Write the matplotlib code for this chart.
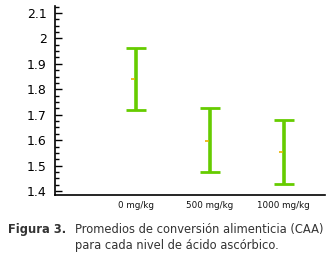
import matplotlib
matplotlib.use("Agg")
import matplotlib.pyplot as plt
from matplotlib.ticker import MultipleLocator, FixedLocator

categories = ["0 mg/kg", "500 mg/kg", "1000 mg/kg"]
means = [1.842, 1.597, 1.552]
upper = [1.964, 1.726, 1.678]
lower = [1.718, 1.476, 1.428]
yticks = [1.4, 1.5, 1.6, 1.7, 1.8, 1.9, 2.0, 2.1]
ylabels = ["1.4", "1.5", "1.6", "1.7", "1.8", "1.9", "2", "2.1"]

fig = plt.figure(figsize=(3.34, 2.54), dpi=100)
ax = fig.add_axes([55/334, 1-195/254, (325-55)/334, (195-6)/254])

x = list(range(1, len(categories) + 1))
err_lo = [m - l for m, l in zip(means, lower)]
err_hi = [u - m for m, u in zip(means, upper)]
ax.errorbar(x, means, yerr=[err_lo, err_hi], fmt="none", ecolor="#66cc00",
            elinewidth=2.6, capsize=7, capthick=2)
ax.plot([xi - 0.04 for xi in x], means, linestyle="none", marker="_",
        markersize=3, markeredgewidth=1.2, color="#e8b400", zorder=5)

ax.set_xlim(-0.10, 3.56)
ax.set_ylim(1.385, 2.127)
ax.yaxis.set_major_locator(FixedLocator(yticks))
ax.set_yticklabels(ylabels)
ax.yaxis.set_minor_locator(MultipleLocator(0.025))
ax.set_xticks(x)
ax.set_xticklabels(categories, fontsize=6.3, color="#111111")
ax.tick_params(axis="x", length=0, pad=4)
ax.tick_params(axis="y", which="major", direction="in", length=5, width=1,
               labelsize=9, colors="black", pad=6)
ax.tick_params(axis="y", which="minor", direction="in", length=3, width=1)
for lab in ax.get_yticklabels():
    lab.set_horizontalalignment("right")
ax.spines["top"].set_visible(False)
ax.spines["right"].set_visible(False)
ax.spines["left"].set_linewidth(1.2)
ax.spines["bottom"].set_linewidth(1.2)

fig.text(8/334, 1-230/254, "Figura 3.", fontsize=8.3, fontweight="bold",
         color="#333333", va="center", ha="left")
fig.text(75/334, 1-230/254, "Promedios de conversión alimenticia (CAA)",
         fontsize=8.3, color="#333333", va="center", ha="left")
fig.text(75/334, 1-245.5/254, "para cada nivel de ácido ascórbico.",
         fontsize=8.3, color="#333333", va="center", ha="left")

fig.savefig("out.png", dpi=100)
